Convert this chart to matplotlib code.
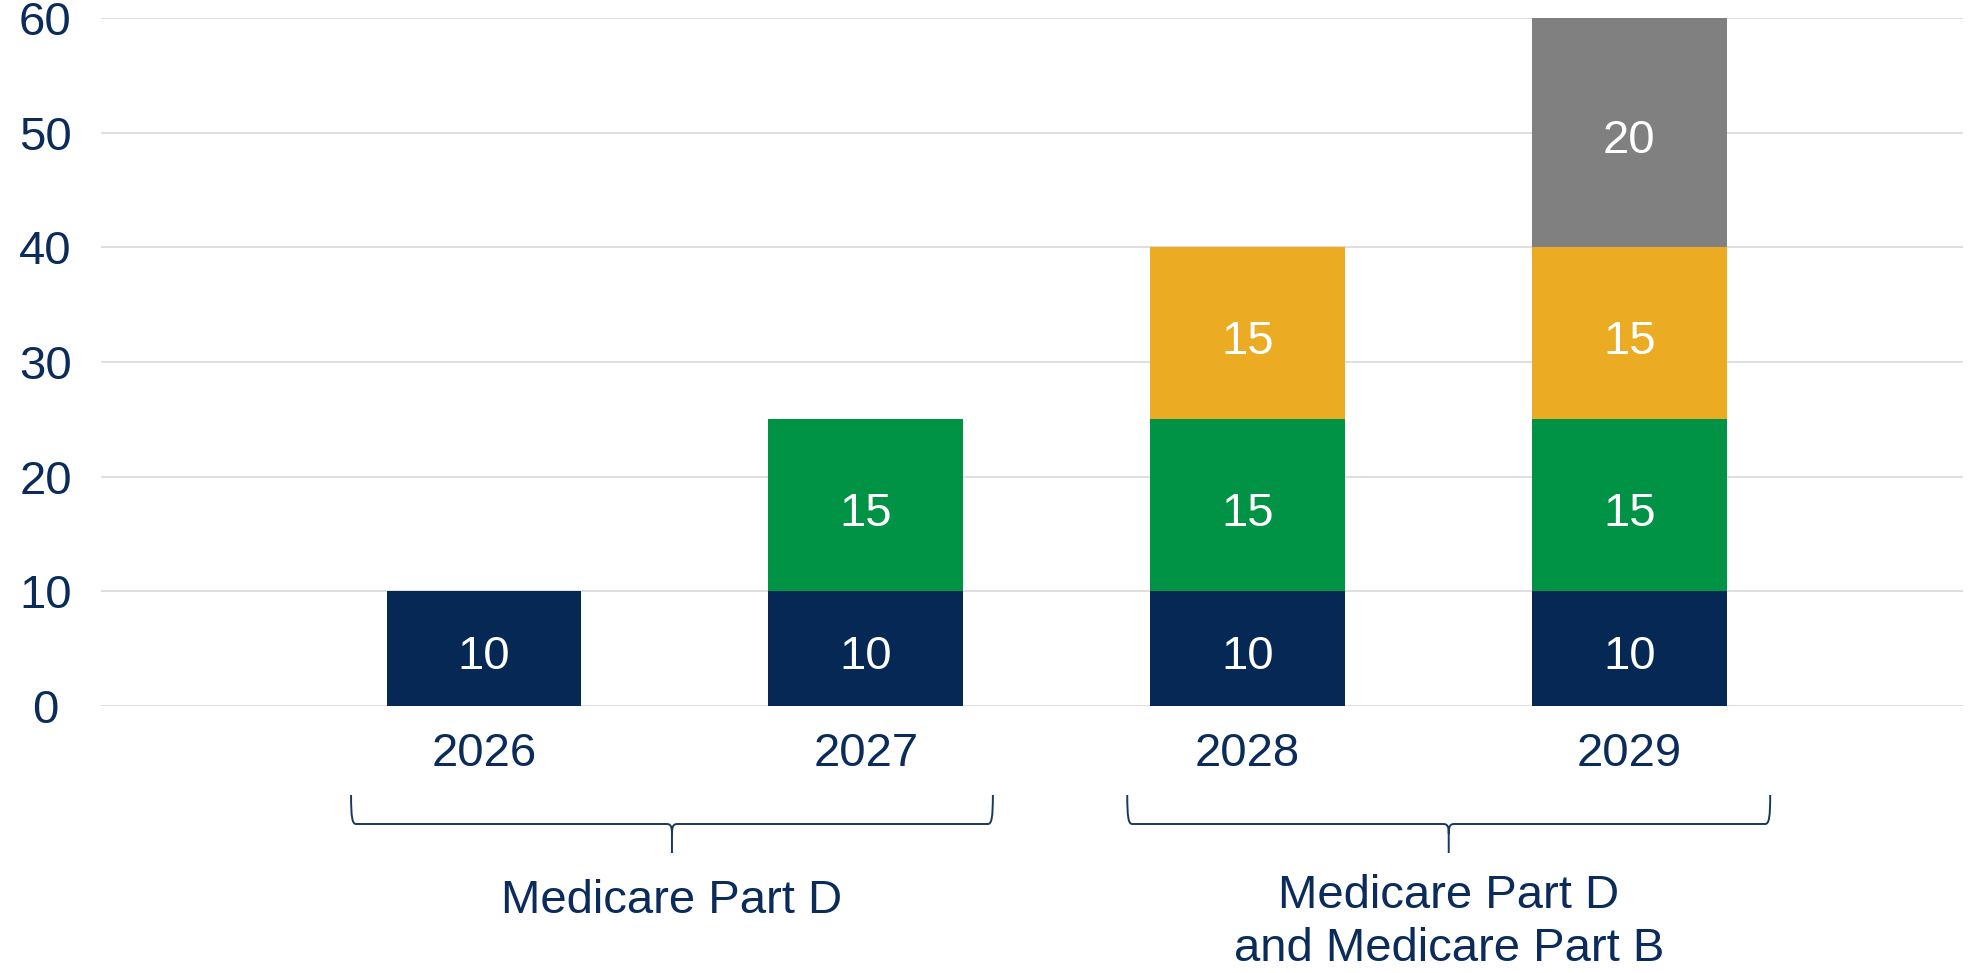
import matplotlib
matplotlib.use("Agg")
import matplotlib.pyplot as plt
from matplotlib.path import Path
from matplotlib.patches import PathPatch
from matplotlib.transforms import blended_transform_factory
import numpy as np

plt.rcParams['font.family'] = ['Liberation Sans', 'DejaVu Sans']

years = ["2026", "2027", "2028", "2029"]
navy_vals = [10, 10, 10, 10]
green_vals = [0, 15, 15, 15]
yellow_vals = [0, 0, 15, 15]
gray_vals = [0, 0, 0, 20]
y_ticks = [0, 10, 20, 30, 40, 50, 60]
group_labels = ["Medicare Part D", "Medicare Part D\nand Medicare Part B"]
brace_spans = [(-0.348, 1.333), (1.685, 3.369)]

NAVY = "#052854"
GREEN = "#009245"
YELLOW = "#EBAB22"
GRAY = "#808080"
TEXT = "#0B2C5A"
BRACE = "#173860"
FS = 34

W, H = 1988, 973
fig = plt.figure(figsize=(W / 100, H / 100), dpi=100)
ax_left, ax_right = 101 / W, 1963 / W
ax_bottom, ax_top = (H - 706) / H, (H - 17.8) / H
ax = fig.add_axes([ax_left, ax_bottom, ax_right - ax_left, ax_top - ax_bottom])
AXH = 706 - 17.8  # axes height in px

x = np.arange(len(years))
width = 0.51
bottom = np.zeros(len(years))
for vals, col in [(navy_vals, NAVY), (green_vals, GREEN), (yellow_vals, YELLOW), (gray_vals, GRAY)]:
    v = np.array(vals, dtype=float)
    ax.bar(x, v, width, bottom=bottom, color=col, zorder=3, linewidth=0)
    for xi, vi, bi in zip(x, v, bottom):
        if vi > 0:
            ax.annotate(f"{int(vi)}", (xi, bi + vi / 2), xytext=(0, -15),
                        textcoords='offset points', ha='center', va='baseline',
                        color='white', fontsize=FS, zorder=4)
    bottom += v

ax.set_ylim(0, 60)
ax.set_xlim(-1.003, 3.874)
ax.set_yticks(y_ticks)
ax.set_xticks(x)
ax.set_xticklabels(years)
ax.tick_params(axis='both', length=0, labelsize=FS, labelcolor=TEXT)
ax.tick_params(axis='y', pad=40)
ax.tick_params(axis='x', pad=19)
for lab in ax.get_yticklabels():
    lab.set_horizontalalignment('center')
ax.grid(axis='y', color='#DCDCDC', linewidth=1.3, zorder=0)
for s in ax.spines.values():
    s.set_visible(False)

# braces
trans = blended_transform_factory(ax.transData, ax.transAxes)
def fy(px):
    return (706 - px) / AXH

ytop, ymid, ybot = fy(795), fy(824), fy(853)
ytip = fy(834)
d_end = 0.013
d_tip = 0.014
for label, (x0, x1) in zip(group_labels, brace_spans):
    xc = (x0 + x1) / 2
    verts = [
        (x0, ytop), (x0, ymid + 0.01), (x0 + 0.003, ymid), (x0 + d_end, ymid),
        (xc - d_tip, ymid),
        (xc - 0.002, ymid), (xc, ymid - 0.005), (xc, ytip),
        (xc, ybot),
        (xc, ytip), (xc, ymid - 0.005), (xc + 0.002, ymid), (xc + d_tip, ymid),
        (x1 - d_end, ymid),
        (x1 - 0.003, ymid), (x1, ymid + 0.01), (x1, ytop),
    ]
    codes = [
        Path.MOVETO, Path.CURVE4, Path.CURVE4, Path.CURVE4,
        Path.LINETO,
        Path.CURVE4, Path.CURVE4, Path.CURVE4,
        Path.LINETO,
        Path.MOVETO, Path.CURVE4, Path.CURVE4, Path.CURVE4,
        Path.LINETO,
        Path.CURVE4, Path.CURVE4, Path.CURVE4,
    ]
    patch = PathPatch(Path(verts, codes), transform=trans, fill=False,
                      edgecolor=BRACE, linewidth=1.4, clip_on=False,
                      capstyle='butt', joinstyle='round')
    ax.add_patch(patch)
    nlines = label.count("\n") + 1
    last_baseline = 913 + 48 * (nlines - 1)
    ax.text(xc, fy(last_baseline), label, transform=trans, ha='center', va='baseline',
            fontsize=FS, color=TEXT, clip_on=False, linespacing=1.26,
            multialignment='center')

fig.savefig("out.png", dpi=100)
